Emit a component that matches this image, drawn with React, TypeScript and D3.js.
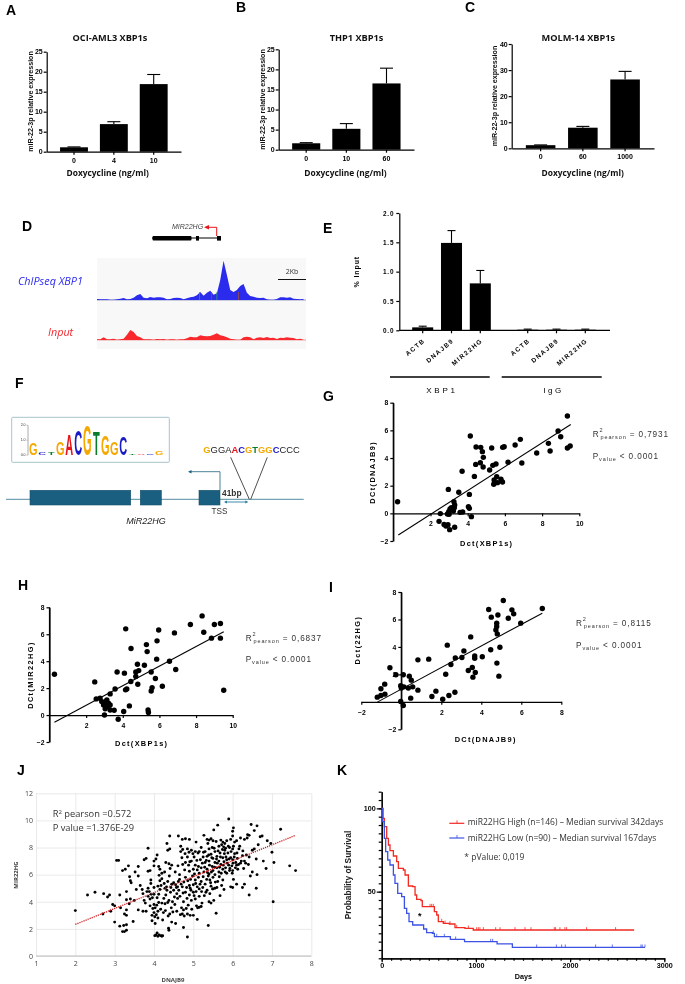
import React, { useEffect, useRef } from "react";
import * as d3 from "d3";

// A-C: miR-22-3p bars
const dosesA = ["0", "4", "10"];
const valuesA = [1.1, 6.9, 16.9];
const errorsA = [1.2, 7.5, 19.3];
const dosesB = ["0", "10", "60"];
const valuesB = [1.6, 5.2, 16.5];
const errorsB = [1.75, 6.5, 20.3];
const dosesC = ["0", "60", "1000"];
const valuesC = [1.2, 7.9, 26.4];
const errorsC = [1.3, 8.4, 29.5];

// D: ChIP-seq tracks, one height per bin
const blueSignal = [3, 2, 2, 2, 1, 1, 2, 4, 6, 2, 3, 7, 14, 18, 7, 5, 9, 7, 8, 8, 7, 2, 3, 6, 7, 6, 2, 5, 8, 10, 14, 24, 13, 22, 28, 16, 20, 60, 118, 75, 30, 24, 30, 42, 48, 22, 12, 10, 7, 6, 7, 2, 1, 1, 3, 8, 8, 7, 8, 4, 3, 2, 3];
const redSignal = [2, 2, 8, 2, 2, 4, 1, 2, 4, 16, 30, 24, 12, 8, 2, 2, 2, 1, 3, 2, 3, 1, 2, 2, 1, 2, 2, 5, 10, 8, 8, 14, 12, 11, 12, 16, 20, 14, 12, 8, 4, 2, 1, 1, 8, 10, 8, 2, 7, 8, 6, 9, 6, 7, 3, 7, 6, 8, 7, 6, 2, 4, 1];
const blueMarkBins = [30.8, 34.4, 36, 42.5];
const blueMarkColors = ["#2ca25f", "#c0392b", "#2ca25f", "#a0522d"];

// E: ChIP-qPCR
const chipGenes = ["ACTB", "DNAJB9", "MIR22HG"];
const xbp1Values = [0.05, 1.49, 0.8];
const xbp1Errors = [0.07, 1.7, 1.02];
const iggValues = [0.01, 0.01, 0.01];
const iggErrors = [0.02, 0.02, 0.02];

// F: motif logo
const logoLetters = ["G", "C", "T", "G", "A", "C", "G", "T", "G", "G", "C", "T", "A", "C", "G"];
const logoBits = [0.78, 0.14, 0.2, 0.9, 1.45, 1.67, 2.0, 1.55, 1.35, 0.85, 1.2, 0.08, 0.07, 0.05, 0.25];
const siteLetters = "GGGAACGTGGCCCC".split("");
const siteColors = ["#f5a800", "#222", "#222", "#222", "#e8121a", "#1a1ac8", "#f5a800", "#0a7d2c", "#f5a800", "#f5a800", "#1a1ac8", "#222", "#222", "#222"];

// G-I: the correlations
const pointsG: [number, number][] = [[0.23, 0.84], [2.46, -0.58], [2.53, -0.02], [2.73, -0.8], [2.83, -0.92], [2.94, -0.82], [3.03, -1.18], [3.3, -1.01], [2.91, -0.05], [2.98, 0.12], [3.05, 0.31], [3.0, -0.07], [3.12, 0.41], [3.23, 0.17], [3.28, 0.41], [3.26, 0.84], [3.3, 0.6], [2.96, 1.73], [3.52, 1.52], [3.59, 0.07], [3.73, 0.1], [4.04, 0.48], [4.09, 0.36], [4.2, -0.24], [4.09, 1.37], [3.7, 3.04], [4.14, 5.59], [4.36, 2.67], [4.43, 3.54], [4.45, 4.8], [4.7, 4.77], [4.68, 3.66], [4.79, 4.46], [4.84, 4.05], [4.83, 3.35], [5.18, 3.13], [5.29, 4.72], [5.35, 3.47], [5.52, 3.57], [5.4, 2.1], [5.42, 2.41], [5.56, 2.65], [5.6, 2.22], [5.79, 2.46], [5.87, 2.27], [5.88, 4.77], [5.96, 4.82], [6.17, 3.69], [6.55, 4.94], [6.83, 5.35], [6.91, 3.64], [7.71, 4.36], [8.34, 5.06], [8.43, 4.51], [8.86, 5.95], [9.0, 5.54], [9.36, 7.04], [9.36, 4.72], [9.51, 4.87]];
const fitG: [number, number][] = [[0.27, -1.57], [9.54, 6.43]];
const pointsH: [number, number][] = [[0.27, 3.03], [2.47, 2.46], [2.55, 1.2], [2.76, 1.25], [2.85, 1.0], [2.95, 0.75], [3.04, 1.0], [3.13, 1.13], [3.22, 0.88], [3.31, 0.75], [3.04, 0.46], [3.0, 0.01], [3.16, 0.63], [3.31, 0.38], [3.53, 0.36], [3.31, 1.57], [3.58, 1.94], [3.69, 3.2], [3.75, -0.31], [4.05, 0.26], [4.09, 3.11], [4.15, 1.87], [4.22, 1.94], [4.16, 6.4], [4.36, 0.68], [4.44, 2.49], [4.45, 4.94], [4.71, 3.2], [4.71, 2.86], [4.8, 3.77], [4.87, 3.3], [4.82, 2.29], [5.18, 3.7], [5.29, 5.23], [5.33, 4.71], [5.38, 0.38], [5.4, 0.19], [5.55, 3.2], [5.55, 1.79], [5.6, 2.04], [5.78, 2.71], [5.85, 4.15], [5.87, 5.51], [5.96, 6.32], [6.16, 2.14], [6.55, 4.0], [6.82, 6.1], [6.89, 3.38], [7.69, 6.72], [8.33, 7.36], [8.42, 6.15], [8.84, 5.71], [9.0, 6.72], [9.33, 6.8], [9.33, 5.71], [9.51, 1.84]];
const fitH: [number, number][] = [[0.27, -0.53], [9.51, 6.18]];
const pointsI: [number, number][] = [[-1.2, 0.34], [-1.02, 0.46], [-1.02, 0.95], [-0.82, 0.56], [-0.83, 1.29], [-0.57, 2.48], [-0.27, 1.97], [-0.03, 0.02], [0.1, -0.27], [-0.03, 1.17], [0, 1.0], [0.1, 1.97], [0.13, 1.09], [0.35, 1.0], [0.4, 1.87], [0.5, 1.58], [0.47, 0.27], [0.57, 1.09], [0.83, 0.85], [0.83, 3.06], [1.37, 3.11], [1.53, 0.39], [1.73, 0.78], [2.07, 0.19], [2.22, 2.01], [2.3, 4.13], [2.38, 0.46], [2.48, 2.72], [2.68, 0.7], [2.7, 3.2], [3.03, 3.23], [3.13, 3.71], [3.35, 2.28], [3.47, 4.73], [3.55, 2.5], [3.58, 1.8], [3.67, 3.35], [3.67, 3.18], [3.7, 2.14], [4.05, 3.28], [4.37, 6.72], [4.47, 3.79], [4.5, 6.17], [4.77, 5.73], [4.77, 5.49], [4.73, 5.24], [4.8, 4.95], [4.78, 2.82], [4.83, 6.33], [4.88, 1.87], [4.93, 3.98], [5.1, 7.38], [5.35, 6.09], [5.53, 6.7], [5.62, 6.41], [5.97, 5.73], [7.05, 6.8]];
const fitI: [number, number][] = [[-1.2, -0.02], [7.05, 6.46]];

// J: cloud read by eye
const pointsJ: [number, number][] = [[2.0, 3.35], [2.31, 4.5], [2.5, 4.7], [2.7, 3.1], [2.72, 4.6], [2.82, 4.35], [2.87, 4.5], [2.9, 3.3], [2.95, 3.8], [3.0, 3.7], [3.0, 2.5], [3.05, 7.05], [3.1, 7.05], [3.13, 2.2], [3.13, 4.5], [3.15, 3.55], [3.2, 1.8], [3.25, 1.8], [3.23, 2.25], [3.3, 2.3], [3.3, 1.9], [3.2, 6.3], [3.27, 6.4], [3.35, 6.65], [3.3, 4.75], [3.25, 3.1], [3.3, 3.0], [3.3, 3.4], [3.3, 4.15], [3.37, 3.85], [3.4, 4.2], [3.38, 5.85], [3.4, 5.55], [3.42, 5.4], [3.47, 2.55], [3.5, 4.1], [3.52, 6.2], [3.6, 5.9], [3.6, 6.6], [3.55, 4.9], [3.6, 3.4],
  [3.85, 7.95], [3.75, 7.1], [3.8, 7.2], [4.0, 7.0], [4.05, 7.15], [4.08, 7.45], [4.0, 6.65], [3.9, 6.3], [3.85, 6.25], [4.12, 6.6], [4.15, 6.4], [4.2, 6.1], [4.27, 6.2], [4.3, 6.9], [4.35, 7.8], [4.33, 8.3], [4.4, 7.9], [4.4, 8.85], [4.38, 6.8], [4.45, 6.7], [4.62, 8.85], [4.68, 8.1], [4.73, 7.85], [4.8, 8.65], [4.85, 7.9], [4.72, 8.6], [4.9, 8.6], [4.95, 7.8], [5.05, 7.7], [5.02, 7.3], [5.07, 8.4], [5.2, 8.0], [5.15, 7.7], [5.27, 8.9], [5.35, 8.6], [5.4, 8.55], [5.45, 8.65], [5.5, 8.5], [5.52, 9.3], [5.58, 8.45], [5.62, 9.65], [5.7, 8.55], [5.75, 8.4], [5.8, 8.3], [5.77, 8.05], [5.85, 8.5], [5.82, 7.95], [5.9, 10.1], [5.95, 8.6], [6.0, 9.2], [6.02, 9.45], [6.0, 8.85], [6.05, 8.4], [6.1, 8.5], [6.0, 7.9], [6.05, 7.55], [6.2, 8.7], [6.3, 8.6], [6.37, 8.7], [6.42, 8.9], [6.38, 8.95], [6.47, 9.7], [6.55, 9.25], [6.62, 9.6], [6.65, 8.2], [6.7, 8.8], [6.75, 8.85], [6.88, 8.5], [6.97, 8.3], [7.0, 7.65], [7.05, 6.9], [7.22, 9.35], [7.45, 6.65], [7.6, 6.3], [7.03, 4.0], [6.85, 6.45], [6.78, 7.0], [6.6, 7.15], [6.55, 7.9], [6.5, 7.8], [6.35, 7.45], [6.42, 7.3], [6.3, 7.0], [6.4, 6.75], [6.5, 6.2], [6.62, 6.0], [6.45, 5.9], [6.3, 5.3], [6.42, 4.5], [6.6, 5.0], [6.25, 5.05], [6.1, 5.3], [6.0, 5.05], [5.95, 5.1], [6.02, 5.65], [5.75, 5.6], [5.78, 4.9], [5.68, 4.45], [5.6, 5.05], [5.55, 5.0], [5.58, 3.15], [5.38, 2.25], [5.15, 3.6], [5.1, 2.7], [5.0, 3.0], [4.92, 3.0], [4.85, 1.4], [4.75, 2.1], [5.2, 3.65], [5.4, 4.0], [5.45, 3.9], [5.35, 4.85], [5.5, 4.95],
  [3.65, 5.2], [3.7, 4.9], [3.72, 4.6], [3.75, 4.1], [3.8, 3.3], [3.78, 3.9], [3.82, 4.75], [3.85, 5.0], [3.85, 4.4], [3.9, 4.2], [3.9, 3.7], [3.92, 5.6], [3.92, 5.35], [3.95, 3.0], [3.97, 3.5], [3.95, 2.6], [4.0, 5.05], [4.0, 4.55], [4.0, 3.8], [4.0, 3.2], [4.02, 2.9], [4.03, 2.4], [4.05, 1.55], [4.02, 1.5], [4.08, 1.7], [4.1, 1.45], [4.13, 1.55], [4.18, 1.5], [4.2, 1.45], [4.22, 1.5], [4.1, 3.3], [4.1, 2.8], [4.12, 3.95], [4.15, 4.9], [4.15, 5.55], [4.2, 5.7], [4.18, 5.2], [4.2, 3.9], [4.22, 2.65], [4.28, 5.0], [4.3, 4.5], [4.28, 3.85], [4.35, 3.95], [4.35, 5.5], [4.38, 4.1], [4.38, 1.9], [4.37, 2.05], [4.4, 3.1], [4.42, 4.7], [4.45, 5.3], [4.47, 4.0], [4.45, 2.5], [4.5, 5.4], [4.5, 4.85], [4.53, 3.8], [4.55, 2.4], [4.55, 5.25], [4.58, 4.6], [4.6, 4.25], [4.62, 5.5], [4.65, 5.65], [4.65, 6.0], [4.68, 7.7], [4.7, 3.55], [4.72, 5.1], [4.72, 3.1], [4.75, 4.0], [4.75, 3.4], [4.78, 6.35], [4.8, 6.9], [4.8, 5.8], [4.8, 4.7], [4.82, 3.5], [4.85, 3.1], [4.85, 7.3], [4.88, 6.7], [4.9, 6.25], [4.9, 5.2], [4.9, 4.5], [4.92, 5.0], [4.95, 4.1], [4.95, 7.0], [4.98, 5.9], [5.0, 6.4], [5.0, 5.25], [5.0, 4.7], [5.05, 6.7], [5.05, 5.6], [5.05, 4.2], [5.08, 3.7], [5.1, 6.35], [5.1, 5.1], [5.12, 7.6], [5.15, 6.1], [5.15, 4.95], [5.15, 4.4], [5.2, 6.5], [5.2, 5.5], [5.22, 3.9], [5.25, 7.3], [5.25, 5.85], [5.27, 6.2], [5.3, 7.7], [5.3, 6.9], [5.3, 5.3], [5.32, 4.7], [5.35, 7.35], [5.35, 6.4], [5.38, 5.9], [5.4, 7.9], [5.4, 7.0], [5.4, 6.05], [5.42, 5.6], [5.42, 4.6], [5.45, 7.5], [5.45, 5.15], [5.48, 8.0], [5.48, 6.6], [5.5, 7.2], [5.5, 6.3], [5.5, 5.8], [5.52, 4.1], [5.55, 7.7], [5.55, 6.9], [5.55, 6.0], [5.6, 7.35], [5.6, 6.5], [5.62, 5.5], [5.65, 8.1], [5.65, 7.0], [5.65, 6.2], [5.68, 7.6], [5.7, 6.75], [5.72, 8.2], [5.72, 5.2], [5.75, 7.25], [5.75, 6.4], [5.78, 6.95], [5.8, 7.8], [5.82, 6.5], [5.85, 7.1], [5.85, 6.1], [5.88, 7.6], [5.9, 6.7], [5.92, 8.0], [5.92, 6.3], [5.95, 7.25], [5.98, 6.65], [6.0, 7.1], [6.0, 6.3], [6.02, 8.1], [6.08, 6.9], [6.1, 6.7], [6.12, 7.2], [6.15, 6.75], [6.18, 8.1], [6.22, 7.0], [6.25, 7.4], [6.28, 6.45],
  [3.72, 3.3], [3.88, 4.75], [3.93, 4.55], [3.96, 4.3], [4.03, 3.55], [4.06, 3.05], [4.07, 3.75], [4.08, 4.3], [4.1, 5.15], [4.12, 4.55], [4.13, 5.95], [4.17, 3.45], [4.24, 3.2], [4.25, 4.25], [4.26, 5.35], [4.29, 3.35], [4.32, 5.1], [4.33, 4.85], [4.36, 2.95], [4.39, 5.9], [4.41, 6.45], [4.43, 5.05], [4.44, 3.55], [4.48, 3.25], [4.52, 4.35], [4.54, 6.2], [4.57, 5.05], [4.58, 3.3], [4.6, 5.1], [4.61, 6.65], [4.63, 4.85], [4.66, 4.4], [4.67, 3.05], [4.69, 5.3], [4.71, 7.25], [4.73, 6.75], [4.74, 4.65], [4.76, 5.45], [4.77, 2.95], [4.79, 7.55], [4.83, 5.05], [4.84, 4.25], [4.86, 5.55], [4.87, 3.75], [4.89, 7.65], [4.91, 6.95], [4.93, 5.65], [4.94, 4.85], [4.96, 3.45], [4.99, 7.55], [5.02, 4.45], [5.03, 6.05], [5.06, 5.35], [5.07, 4.75], [5.09, 7.05], [5.11, 3.55], [5.13, 6.6], [5.13, 5.8], [5.17, 5.3], [5.18, 7.1], [5.21, 4.75], [5.23, 6.85], [5.24, 5.05], [5.26, 7.65], [5.28, 4.45], [5.29, 6.55], [5.33, 7.05], [5.34, 5.65], [5.36, 6.15], [5.37, 8.3], [5.39, 7.45], [5.41, 6.7], [5.44, 5.4], [5.46, 6.2], [5.47, 7.25], [5.49, 4.95], [5.53, 7.95], [5.54, 6.55], [5.56, 5.45], [5.59, 7.15], [5.61, 6.85], [5.63, 7.75], [5.66, 5.85], [5.67, 6.55], [5.69, 7.3], [5.71, 6.1], [5.74, 7.85], [5.76, 6.7], [5.79, 7.55], [5.81, 6.2], [5.83, 7.3], [5.86, 6.85], [5.89, 8.1], [5.91, 7.15], [5.93, 6.45], [5.96, 7.7], [5.99, 6.1], [6.01, 6.85], [6.04, 7.3], [6.07, 6.5], [6.11, 7.6], [6.13, 6.4], [6.16, 7.9], [6.2, 6.85], [6.26, 7.75], [6.33, 6.85]];
const fitJ: [number, number][] = [[2, 2.33], [7.6, 8.9]];

// K: survival steps
const highDays = [0, 14, 28, 53, 71, 88, 124, 159, 177, 230, 248, 283, 329, 354, 371, 417, 431, 538, 559, 584, 601, 654, 718, 778, 884, 972, 2680];
const highSurvival = [100, 94, 89, 82, 78, 74.6, 71.4, 68, 64, 63, 60, 53.4, 53, 48, 45.4, 44.6, 41, 41, 38, 36, 32, 31, 30.6, 28.4, 28, 27, 27];
const highCensored = [513, 530, 548, 637, 672, 725, 796, 920, 1008, 1026, 1043, 1079, 1210, 1256, 1415, 1521, 1585, 1832, 1846, 1892, 1945, 1963, 2175, 2483];
const lowDays = [0, 11, 28, 42, 64, 88, 124, 141, 170, 212, 241, 265, 290, 329, 431, 445, 477, 538, 559, 715, 729, 877, 880, 1220, 1225, 1380, 1387, 2795];
const lowSurvival = [100, 92, 82, 74, 69, 66, 60, 55, 49, 47, 40, 37, 32, 30, 30, 27.6, 25.4, 25, 23, 23, 21.4, 21, 20, 20, 18.6, 18.6, 16.6, 16.6];
const lowCensored = [548, 584, 665, 785, 1157, 1178, 1645, 1854, 1910, 1949, 2271, 2448, 2752, 2766, 2795];

const ARIAL = "'Liberation Sans', Arial, sans-serif";
const CALIBRI = "'Open Sans', sans-serif";
type Sel = d3.Selection<any, any, any, any>;

function label(svg: Sel, s: string, x: number, y: number, opts: any = {}) {
  const t = svg
    .append("text")
    .attr("x", x)
    .attr("y", y)
    .attr("font-family", opts.family || ARIAL)
    .attr("font-size", opts.size || 8)
    .attr("font-weight", opts.weight || "normal")
    .attr("font-style", opts.style || "normal")
    .attr("fill", opts.fill || "#000")
    .attr("text-anchor", opts.anchor || "start")
    .text(s);
  if (opts.spacing) t.attr("letter-spacing", opts.spacing);
  if (opts.rotate) t.attr("transform", `rotate(${opts.rotate} ${x} ${y})`);
  return t;
}

function styleAxis(g: Sel, size = 7, spacing = 0) {
  g.selectAll("path,line").attr("stroke", "#000").attr("stroke-width", 1.2);
  g.selectAll("text")
    .attr("font-family", ARIAL)
    .attr("font-size", size)
    .attr("font-weight", "bold")
    .attr("letter-spacing", spacing)
    .attr("fill", "#000");
}

function errorBars(svg: Sel, keys: string[], x: any, y: any, values: number[], errors: number[], cap: number) {
  keys.forEach((k, i) => {
    const cx = x(k) + x.bandwidth() / 2;
    svg.append("line").attr("x1", cx).attr("x2", cx).attr("y1", y(values[i])).attr("y2", y(errors[i])).attr("stroke", "#000").attr("stroke-width", 1.1);
    svg.append("line").attr("x1", cx - cap / 2).attr("x2", cx + cap / 2).attr("y1", y(errors[i])).attr("y2", y(errors[i])).attr("stroke", "#000").attr("stroke-width", 1.1);
  });
}

function barPanel(svg: Sel, p: any) {
  const x = d3.scaleBand<string>().domain(p.doses).range([p.left, p.right]).paddingInner(0.3).paddingOuter(0.335);
  const y = d3.scaleLinear().domain([0, p.max]).range([p.bottom, p.top]);
  errorBars(svg, p.doses, x, y, p.values, p.errors, 13);
  svg
    .append("g")
    .selectAll("rect")
    .data(p.values as number[])
    .enter()
    .append("rect")
    .attr("x", (_, i) => x(p.doses[i]) as number)
    .attr("y", (d) => y(d))
    .attr("width", x.bandwidth())
    .attr("height", (d) => p.bottom - y(d))
    .attr("fill", "#000");
  styleAxis(
    svg.append("g").attr("transform", `translate(${p.left},0)`).call(d3.axisLeft(y).tickValues(p.ticks).tickSize(3).tickPadding(1).tickSizeOuter(0)),
    7
  );
  const gx = svg.append("g").attr("transform", `translate(0,${p.bottom})`).call(d3.axisBottom(x).tickSize(3).tickPadding(3).tickSizeOuter(0));
  styleAxis(gx, 7);
  label(svg, p.title, p.titleX, 40.5, { family: CALIBRI, size: 9.2, weight: "bold", anchor: "middle", fill: "#111" });
  label(svg, "Doxycycline (ng/ml)", p.xLabelX, 175.5, { family: CALIBRI, size: 8.4, weight: "bold", anchor: "middle", fill: "#111" });
  label(svg, "miR-22-3p relative expression", p.yLabelX, p.yLabelY, { size: 7.1, weight: "bold", anchor: "middle", rotate: -90, fill: "#111" });
}

function statText(svg: Sel, x: number, y1: number, y2: number, r2: string) {
  const a = label(svg, "", x, y1, { size: 8.2, fill: "#333", spacing: 0.9 });
  a.append("tspan").text("R");
  a.append("tspan").attr("dy", -5).attr("font-size", 5.5).text("2");
  a.append("tspan").attr("dy", 7).attr("font-size", 5.5).attr("dx", -3).text("pearson");
  a.append("tspan").attr("dy", -2).attr("dx", 3).text(`= ${r2}`);
  const b = label(svg, "", x, y2, { size: 8.2, fill: "#333", spacing: 0.9 });
  b.append("tspan").text("P");
  b.append("tspan").attr("dy", 2).attr("font-size", 5.5).text("value");
  b.append("tspan").attr("dy", -2).attr("dx", 3).text("< 0.0001");
}

function scatterPanel(svg: Sel, p: any) {
  const x = d3.scaleLinear().domain(p.xDomain).range([p.x0, p.x1]);
  const y = d3.scaleLinear().domain([-2, 8]).range([p.y0, p.y1]);
  styleAxis(
    svg.append("g").attr("transform", `translate(${x(0)},0)`).call(d3.axisLeft(y).tickValues(p.yTicks).tickSize(3).tickPadding(2).tickSizeOuter(0).tickFormat(d3.format("d") as any)),
    6.8
  );
  svg
    .append("line")
    .attr("x1", x(0))
    .attr("x2", x(0))
    .attr("y1", y(-2))
    .attr("y2", y(8))
    .attr("stroke", "#000")
    .attr("stroke-width", 1.2);
  styleAxis(
    svg.append("g").attr("transform", `translate(0,${y(0)})`).call(d3.axisBottom(x).tickValues(p.xTicks).tickSize(3).tickPadding(p.xPad).tickSizeOuter(0).tickFormat(d3.format("d") as any)),
    6.8
  );
  svg
    .append("g")
    .selectAll("circle")
    .data(p.points as [number, number][])
    .enter()
    .append("circle")
    .attr("cx", (d) => x(d[0]))
    .attr("cy", (d) => y(d[1]))
    .attr("r", 2.7)
    .attr("fill", "#000");
  const fit = d3.line<[number, number]>().x((d) => x(d[0])).y((d) => y(d[1]));
  svg.append("path").attr("d", fit(p.fit)).attr("fill", "none").attr("stroke", "#000").attr("stroke-width", 1.1);
  label(svg, p.xTitle, p.xTitleX, p.xTitleY, { size: 7.4, weight: "bold", anchor: "middle", spacing: 1.3 });
  label(svg, p.yTitle, p.yTitleX, p.yTitleY, { size: 7.4, weight: "bold", anchor: "middle", spacing: 1.4, rotate: -90 });
}

export default function App() {
  const svgRef = useRef<SVGSVGElement | null>(null);

  useEffect(() => {
    if (!svgRef.current) return;
    const svg = d3.select(svgRef.current);
    svg.selectAll("*").remove();

    // panel letters
    const letters: [string, number, number][] = [["A", 6, 15], ["B", 236, 12], ["C", 465, 12], ["D", 22, 231], ["E", 323, 233], ["F", 15, 388], ["G", 323, 401], ["H", 18, 590], ["I", 329, 592], ["J", 17, 775], ["K", 337, 775]];
    letters.forEach(([s, x, y]) => label(svg, s, x, y, { size: 14, weight: "bold" }));

    barPanel(svg, { doses: dosesA, values: valuesA, errors: errorsA, left: 46.7, right: 181, top: 51.7, bottom: 151.7, max: 25, ticks: [0, 5, 10, 15, 20, 25], title: "OCI-AML3 XBP1s", titleX: 110, xLabelX: 107.7, yLabelX: 33, yLabelY: 101.5 });
    barPanel(svg, { doses: dosesB, values: valuesB, errors: errorsB, left: 278.7, right: 414, top: 49.3, bottom: 149.7, max: 25, ticks: [0, 5, 10, 15, 20, 25], title: "THP1 XBP1s", titleX: 356.5, xLabelX: 345.5, yLabelX: 265, yLabelY: 99.5 });
    barPanel(svg, { doses: dosesC, values: valuesC, errors: errorsC, left: 511.7, right: 654, top: 44, bottom: 148.3, max: 40, ticks: [0, 10, 20, 30, 40], title: "MOLM-14 XBP1s", titleX: 578.3, xLabelX: 582.7, yLabelX: 496.5, yLabelY: 96 });

    // D: tracks
    svg.append("rect").attr("x", 97).attr("y", 258).attr("width", 209).attr("height", 91).attr("fill", "#f8f8f8");
    const binX = d3.scaleLinear().domain([0, 62]).range([97, 303.5]);
    const trackColors = [
      { data: blueSignal, base: 300, fill: "#2b2bee", line: "#9aa0c0" },
      { data: redSignal, base: 340, fill: "#f8282c", line: "#e8a0a0" },
    ];
    trackColors.forEach((t) => {
      const h = d3.scaleLinear().domain([0, 120]).range([t.base, t.base - 40]);
      const area = d3.area<number>().x((_, i) => binX(i)).y0(t.base).y1((d) => h(d));
      svg.append("line").attr("x1", 97).attr("x2", 306).attr("y1", t.base).attr("y2", t.base).attr("stroke", t.line);
      svg.append("path").attr("d", area(t.data)).attr("fill", t.fill);
    });
    blueMarkBins.forEach((b, i) => {
      svg.append("line").attr("x1", binX(b)).attr("x2", binX(b)).attr("y1", 300).attr("y2", 292).attr("stroke", blueMarkColors[i]).attr("stroke-width", 0.8);
    });
    svg.append("line").attr("x1", 278).attr("x2", 306).attr("y1", 279.5).attr("y2", 279.5).attr("stroke", "#111").attr("stroke-width", 1);
    label(svg, "2Kb", 292, 274, { size: 7, anchor: "middle", fill: "#333", family: CALIBRI });
    label(svg, "ChIPseq XBP1", 18, 285, { family: CALIBRI, size: 10.8, style: "italic", fill: "#2a2af0" });
    label(svg, "Input", 48, 336, { family: CALIBRI, size: 10.8, style: "italic", fill: "#f0282c" });
    // gene model
    svg.append("line").attr("x1", 152).attr("x2", 220).attr("y1", 238).attr("y2", 238).attr("stroke", "#000");
    svg.append("rect").attr("x", 152.5).attr("y", 236).attr("width", 39).attr("height", 4.6).attr("rx", 1).attr("fill", "#000");
    svg.append("rect").attr("x", 196).attr("y", 236).attr("width", 3).attr("height", 4.6).attr("fill", "#000");
    svg.append("rect").attr("x", 217).attr("y", 236).attr("width", 4).attr("height", 4.6).attr("fill", "#000");
    svg.append("path").attr("d", "M216.7,236V227.3H207").attr("fill", "none").attr("stroke", "#e8141c");
    svg.append("path").attr("d", "M204,227.3L209,225V229.6Z").attr("fill", "#e8141c");
    label(svg, "MIR22HG", 172, 229, { size: 7, style: "italic", fill: "#444" });

    // E: ChIP bars
    const xE1 = d3.scaleBand<string>().domain(chipGenes).range([408.3, 494.7]).paddingInner(0.27).paddingOuter(0.135);
    const xE2 = d3.scaleBand<string>().domain(chipGenes).range([513.3, 599.7]).paddingInner(0.27).paddingOuter(0.135);
    const yE = d3.scaleLinear().domain([0, 2]).range([330.3, 213]);
    const groupsE = [
      { x: xE1, values: xbp1Values, errors: xbp1Errors },
      { x: xE2, values: iggValues, errors: iggErrors },
    ];
    groupsE.forEach((g) => {
      errorBars(svg, chipGenes, g.x, yE, g.values, g.errors, 8);
      svg
        .append("g")
        .selectAll("rect")
        .data(g.values)
        .enter()
        .append("rect")
        .attr("x", (_, i) => g.x(chipGenes[i]) as number)
        .attr("y", (d) => yE(d))
        .attr("width", g.x.bandwidth())
        .attr("height", (d) => 330.3 - yE(d))
        .attr("fill", "#000");
      const gx = svg.append("g").attr("transform", "translate(0,330.3)").call(d3.axisBottom(g.x).tickSize(3).tickSizeOuter(0));
      gx.select(".domain").remove();
      styleAxis(gx, 6.4, 1.4);
      gx.selectAll("text")
        .attr("text-anchor", "end")
        .attr("transform", "translate(-3,4) rotate(-40)")
        .attr("dy", "0.5em");
    });
    svg.append("line").attr("x1", 399.3).attr("x2", 610).attr("y1", 330.3).attr("y2", 330.3).attr("stroke", "#000").attr("stroke-width", 1.2);
    styleAxis(
      svg.append("g").attr("transform", "translate(399.3,0)").call(d3.axisLeft(yE).tickValues([0, 0.5, 1, 1.5, 2]).tickFormat(d3.format(".1f") as any).tickSize(3).tickPadding(2).tickSizeOuter(0)),
      6.4,
      0.8
    );
    label(svg, "% Input", 359, 271.7, { size: 7, weight: "bold", anchor: "middle", rotate: -90, spacing: 0.9 });
    [[390, 489.7], [501.7, 601.7]].forEach(([a, b]) => {
      svg.append("line").attr("x1", a).attr("x2", b).attr("y1", 377).attr("y2", 377).attr("stroke", "#000").attr("stroke-width", 1.7);
    });
    label(svg, "XBP1", 442, 392.5, { size: 8, anchor: "middle", spacing: 2.8 });
    label(svg, "IgG", 553.5, 392.5, { size: 8, anchor: "middle", spacing: 2.4 });

    // F: motif and gene scheme
    svg.append("rect").attr("x", 11.7).attr("y", 417.3).attr("width", 157.6).attr("height", 45).attr("rx", 1).attr("fill", "#fff").attr("stroke", "#a8c4cc").attr("stroke-width", 1);
    const logoX = d3.scaleBand<number>().domain(d3.range(logoLetters.length)).range([28.8, 163.8]);
    const logoY = d3.scaleLinear().domain([0, 2]).range([454.7, 424.7]);
    const logoColor: Record<string, string> = { A: "#e8121a", C: "#1a1ac8", G: "#f5a800", T: "#0a7d2c" };
    logoLetters.forEach((s, i) => {
      const px = 454.7 - logoY(logoBits[i]);
      svg
        .append("text")
        .attr("text-anchor", "middle")
        .attr("font-family", ARIAL)
        .attr("font-weight", "bold")
        .attr("font-size", 10)
        .attr("fill", logoColor[s])
        .attr("transform", `translate(${(logoX(i) as number) + logoX.bandwidth() / 2},454.7) scale(1.1,${px / 7.2})`)
        .text(s);
    });
    const gLogo = svg.append("g").attr("transform", "translate(27.5,0)").call(d3.axisLeft(logoY).tickValues([0, 1, 2]).tickSize(1).tickPadding(1).tickSizeOuter(0));
    gLogo.selectAll("path,line").attr("stroke", "#555").attr("stroke-width", 0.5);
    gLogo.selectAll("text").attr("font-size", 3.5).attr("font-family", ARIAL).attr("fill", "#333");
    svg
      .append("line")
      .attr("x1", 6)
      .attr("x2", 303.7)
      .attr("y1", 499.3)
      .attr("y2", 499.3)
      .attr("stroke", "#3f7f95")
      .attr("stroke-width", 0.9);
    [[30, 100.7], [140.3, 21], [199, 21]].forEach(([x, w]) => {
      svg.append("rect").attr("x", x).attr("y", 490.3).attr("width", w).attr("height", 14.7).attr("fill", "#1a5f80").attr("stroke", "#14506c").attr("stroke-width", 0.6);
    });
    svg.append("path").attr("d", "M220,490V471.7H190").attr("fill", "none").attr("stroke", "#4a8298").attr("stroke-width", 1);
    svg.append("path").attr("d", "M188,471.7L191.5,470V473.4Z").attr("fill", "#1a5f80");
    svg.append("path").attr("d", "M230.7,457.3L249.3,499.3M267.3,457.3L250.7,499.3").attr("fill", "none").attr("stroke", "#222").attr("stroke-width", 0.8);
    svg.append("path").attr("d", "M225,502H247").attr("stroke", "#2a7fa0").attr("stroke-width", 0.9);
    svg.append("path").attr("d", "M224,502L227,500.5V503.5ZM248.3,502L245.3,500.5V503.5Z").attr("fill", "#2a7fa0");
    label(svg, "41bp", 222, 495.7, { size: 8.4, weight: "bold", fill: "#333" });
    label(svg, "TSS", 219.5, 514, { size: 8.2, anchor: "middle", fill: "#333" });
    label(svg, "MiR22HG", 146, 524, { size: 9, style: "italic", anchor: "middle", fill: "#222" });
    const site = label(svg, "", 203.3, 452.7, { size: 9.4, fill: "#222" });
    siteLetters.forEach((s, i) => site.append("tspan").attr("fill", siteColors[i]).attr("font-weight", siteColors[i] === "#222" ? "normal" : "bold").text(s));

    // G-I
    scatterPanel(svg, { points: pointsG, fit: fitG, xDomain: [0, 10], xTicks: [2, 4, 6, 8, 10], yTicks: [-2, 0, 2, 4, 6, 8], x0: 393.3, x1: 579.3, y0: 541, y1: 402.7, xPad: 5, xTitle: "Dct(XBP1s)", xTitleX: 486.7, xTitleY: 545.7, yTitle: "DCt(DNAJB9)", yTitleX: 375.5, yTitleY: 472.3 });
    statText(svg, 592.7, 437.3, 459, "0,7931");
    scatterPanel(svg, { points: pointsH, fit: fitH, xDomain: [0, 10], xTicks: [2, 4, 6, 8, 10], yTicks: [-2, 0, 2, 4, 6, 8], x0: 49.5, x1: 232.7, y0: 742, y1: 607.3, xPad: 5, xTitle: "Dct(XBP1s)", xTitleX: 141.7, xTitleY: 745.7, yTitle: "DCt(MIR22HG)", yTitleX: 32.5, yTitleY: 675 });
    statText(svg, 245.7, 641, 662.3, "0,6837");
    scatterPanel(svg, { points: pointsI, fit: fitI, xDomain: [-2, 8], xTicks: [-2, 2, 4, 6, 8], yTicks: [-2, 2, 4, 6, 8], x0: 361.3, x1: 561.3, y0: 729.3, y1: 592, xPad: 5, xTitle: "DCt(DNAJB9)", xTitleX: 485.7, xTitleY: 742, yTitle: "Dct(22HG)", yTitleX: 360, yTitleY: 640 });
    statText(svg, 576, 625.7, 647.7, "0,8115");

    // J
    const xJ = d3.scaleLinear().domain([1, 8]).range([36, 311.3]);
    const yJ = d3.scaleLinear().domain([0, 12]).range([956, 793.3]);
    const gridX = svg.append("g").attr("transform", "translate(0,956)").call(d3.axisBottom(xJ).ticks(7).tickSize(-162.7).tickPadding(5));
    const gridY = svg.append("g").attr("transform", "translate(36,0)").call(d3.axisLeft(yJ).tickValues([0, 2, 4, 6, 8, 10, 12]).tickSize(-275.3).tickPadding(3));
    [gridX, gridY].forEach((g) => {
      g.select(".domain").remove();
      g.selectAll("line").attr("stroke", "#e4e4e4").attr("stroke-width", 0.8);
      g.selectAll("text").attr("font-family", CALIBRI).attr("font-size", 7).attr("fill", "#444");
    });
    svg.append("line").attr("x1", 36).attr("x2", 311.3).attr("y1", 956).attr("y2", 956).attr("stroke", "#bbb");
    svg
      .append("g")
      .selectAll("circle")
      .data(pointsJ)
      .enter()
      .append("circle")
      .attr("cx", (d) => xJ(d[0]))
      .attr("cy", (d) => yJ(d[1]))
      .attr("r", 1.45)
      .attr("fill", "#000");
    svg
      .append("path")
      .attr("d", d3.line<[number, number]>().x((d) => xJ(d[0])).y((d) => yJ(d[1]))(fitJ))
      .attr("stroke", "#d0181c")
      .attr("stroke-width", 1.3)
      .attr("stroke-dasharray", "1.2 1")
      .attr("fill", "none");
    const r2 = label(svg, "R", 52.7, 817.3, { family: CALIBRI, size: 9.3, fill: "#333" });
    r2.append("tspan").attr("dy", -3).attr("font-size", 6).text("2");
    r2.append("tspan").attr("dy", 3).text(" pearson =0.572");
    label(svg, "P value =1.376E-29", 52.7, 830.7, { family: CALIBRI, size: 9.3, fill: "#333" });
    label(svg, "DNAJB9", 173, 982, { family: CALIBRI, size: 6, weight: "bold", anchor: "middle", fill: "#444" });
    label(svg, "MIR22HG", 18, 875, { family: CALIBRI, size: 6, weight: "bold", anchor: "middle", rotate: -90, fill: "#444" });

    // K
    const xK = d3.scaleLinear().domain([0, 3000]).range([381.7, 664.3]);
    const yK = d3.scaleLinear().domain([10, 110]).range([958.3, 791.7]);
    const gyK = svg.append("g").attr("transform", "translate(381.7,0)").call(d3.axisLeft(yK).tickValues(d3.range(10, 111, 5)).tickSize(3).tickFormat(() => "").tickSizeOuter(0));
    const gyK2 = svg.append("g").attr("transform", "translate(381.7,0)").call(d3.axisLeft(yK).tickValues([50, 100]).tickSize(5).tickPadding(1).tickSizeOuter(0));
    styleAxis(gyK, 7);
    styleAxis(gyK2, 7.2);
    const gxK = svg.append("g").attr("transform", "translate(0,958.3)").call(d3.axisBottom(xK).tickValues(d3.range(0, 3001, 100)).tickSize(2.5).tickFormat(() => "").tickSizeOuter(0));
    const gxK2 = svg.append("g").attr("transform", "translate(0,958.3)").call(d3.axisBottom(xK).tickValues([0, 1000, 2000, 3000]).tickFormat(d3.format("d") as any).tickSize(4).tickPadding(1).tickSizeOuter(0));
    styleAxis(gxK, 7);
    styleAxis(gxK2, 7.2);
    const stepLine = d3.line<number>().x((d) => xK(d)).curve(d3.curveStepAfter);
    const curves = [
      { days: highDays, surv: highSurvival, censored: highCensored, color: "#f22a22" },
      { days: lowDays, surv: lowSurvival, censored: lowCensored, color: "#3b52e4" },
    ];
    curves.forEach((c) => {
      stepLine.y((_, i) => yK(c.surv[i]));
      svg.append("path").attr("d", stepLine(c.days)).attr("fill", "none").attr("stroke", c.color).attr("stroke-width", 1.3);
      c.censored.forEach((d) => {
        const s = c.surv[d3.bisectRight(c.days, d) - 1];
        svg.append("line").attr("x1", xK(d)).attr("x2", xK(d)).attr("y1", yK(s) - 2.8).attr("y2", yK(s)).attr("stroke", c.color).attr("stroke-width", 0.8);
      });
    });
    label(svg, "Probability of Survival", 351, 875, { family: "'Liberation Sans Narrow', 'Liberation Sans', sans-serif", size: 8.4, weight: "bold", anchor: "middle", rotate: -90, fill: "#222" });
    label(svg, "Days", 523.3, 979, { size: 7.2, weight: "bold", anchor: "middle" });
    label(svg, "*", 419.7, 919, { size: 9, weight: "bold", anchor: "middle" });
    const legendRows = [
      { y: 823.3, color: "#f22a22", text: "miR22HG High (n=146) –  Median survival 342days", yText: 824.5 },
      { y: 838, color: "#3b52e4", text: "miR22HG Low (n=90) –  Median survival 167days", yText: 840.8 },
    ];
    legendRows.forEach((r) => {
      svg.append("line").attr("x1", 449.3).attr("x2", 464.3).attr("y1", r.y).attr("y2", r.y).attr("stroke", r.color).attr("stroke-width", 1.2);
      svg.append("line").attr("x1", 457).attr("x2", 457).attr("y1", r.y - 3).attr("y2", r.y).attr("stroke", r.color).attr("stroke-width", 0.8);
      label(svg, r.text, 467.7, r.yText, { family: CALIBRI, size: 8.5, fill: "#333" });
    });
    label(svg, "* pValue: 0,019", 464.3, 860, { family: CALIBRI, size: 8.5, fill: "#333" });
  }, []);

  return (
    <svg
      ref={svgRef}
      width={685}
      height={984}
      viewBox="0 0 685 984"
      style={{ position: "absolute", left: 0, top: 0, background: "#fff", filter: "blur(0.4px)" }}
    />
  );
}
